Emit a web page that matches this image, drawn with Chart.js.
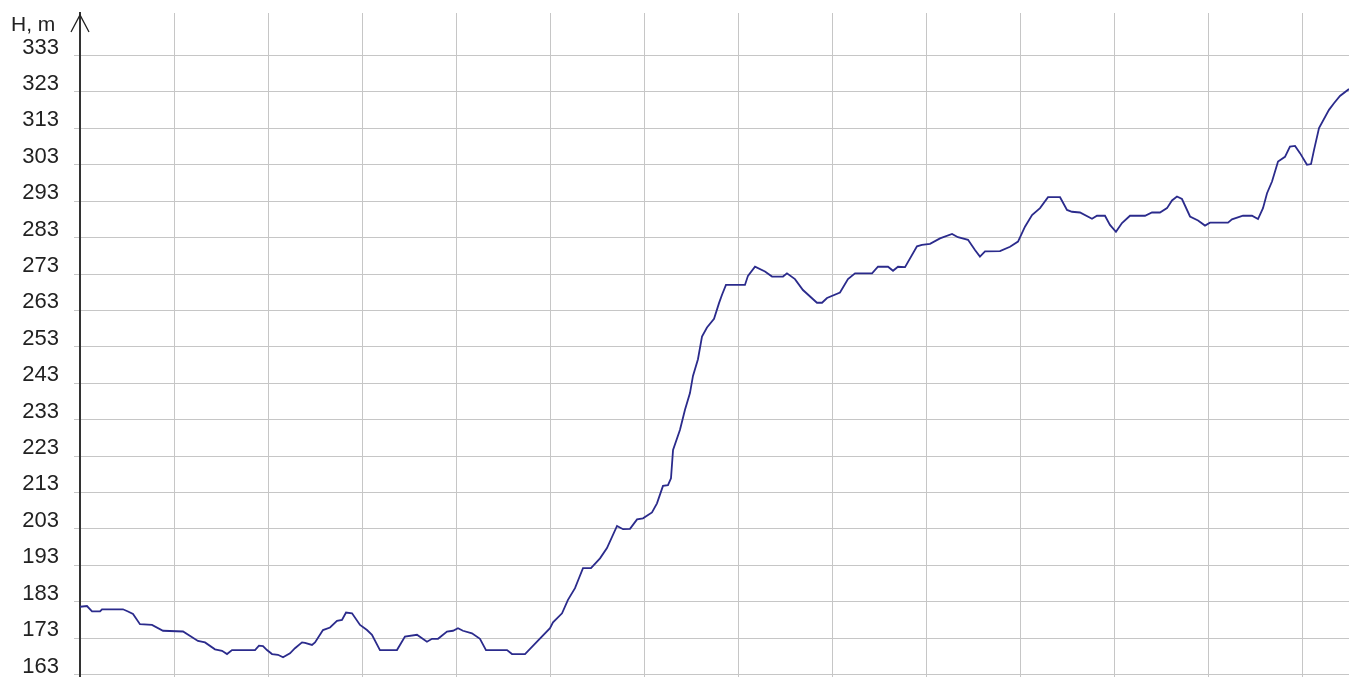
<!DOCTYPE html>
<html>
<head>
<meta charset="utf-8">
<script src="https://cdn.jsdelivr.net/npm/chart.js@4/dist/chart.umd.min.js"></script>
<style>
  html, body { margin: 0; padding: 0; background: #ffffff; }
  #wrap { width: 1349px; height: 677px; position: relative; }
</style>
</head>
<body>
<div id="wrap"><canvas id="c"></canvas></div>
<script>
// Distance along the profile (in grid units) and elevation H, m
const distances = [
  0, 0.074, 0.128, 0.213, 0.234, 0.457, 0.511, 0.564, 0.638, 0.766, 0.883,
  1.096, 1.255, 1.330, 1.436, 1.511, 1.564, 1.617, 1.862, 1.904, 1.947, 1.989,
  2.043, 2.106, 2.160, 2.234, 2.287, 2.362, 2.394, 2.468, 2.500, 2.585, 2.660,
  2.734, 2.787, 2.830, 2.894, 2.979, 3.053, 3.106, 3.191, 3.372, 3.457, 3.585,
  3.691, 3.745, 3.809, 3.904, 3.968, 4.021, 4.074, 4.170, 4.255, 4.319, 4.543,
  4.596, 4.734, 4.862, 5.000, 5.032, 5.128, 5.191, 5.266, 5.309, 5.351, 5.436,
  5.532, 5.606, 5.713, 5.777, 5.851, 5.926, 5.989, 6.085, 6.138, 6.202, 6.255,
  6.287, 6.309, 6.383, 6.436, 6.489, 6.521, 6.574, 6.617, 6.670, 6.745, 6.798,
  6.830, 6.872, 7.074, 7.106, 7.181, 7.287, 7.362, 7.479, 7.521, 7.606, 7.691,
  7.840, 7.894, 7.947, 8.085, 8.170, 8.245, 8.426, 8.489, 8.596, 8.649, 8.702,
  8.777, 8.904, 8.957, 9.043, 9.149, 9.277, 9.340, 9.447, 9.521, 9.574, 9.628,
  9.787, 9.894, 9.979, 10.053, 10.128, 10.213, 10.298, 10.426, 10.500, 10.553,
  10.638, 10.766, 10.819, 10.904, 10.957, 11.021, 11.085, 11.170, 11.330, 11.404,
  11.489, 11.564, 11.617, 11.670, 11.723, 11.809, 11.894, 11.968, 12.021, 12.213,
  12.255, 12.372, 12.468, 12.532, 12.585, 12.628, 12.681, 12.745, 12.819, 12.872,
  12.926, 12.979, 13.053, 13.096, 13.128, 13.181, 13.287, 13.340, 13.404, 13.500
];
const elevations = [
  181.6, 181.8, 180.3, 180.3, 180.9, 180.9, 180.3, 179.6, 176.8, 176.6, 175.0,
  174.8, 172.2, 171.8, 169.9, 169.5, 168.6, 169.7, 169.7, 170.9, 170.8, 169.7,
  168.6, 168.4, 167.7, 168.8, 170.2, 171.8, 171.7, 171.1, 171.8, 175.2, 175.9,
  177.7, 178.0, 180.0, 179.8, 176.6, 175.2, 173.9, 169.7, 169.7, 173.4, 173.9,
  172.0, 172.8, 172.8, 174.8, 175.0, 175.7, 175.0, 174.3, 172.8, 169.7, 169.7,
  168.6, 168.6, 172.0, 175.7, 177.3, 179.8, 183.5, 186.7, 189.5, 192.2, 192.2,
  194.9, 197.7, 203.8, 202.9, 203.0, 205.6, 205.9, 207.5, 210.0, 214.8, 215.0,
  216.9, 224.7, 230.2, 235.7, 240.3, 245.0, 249.6, 255.8, 258.3, 260.7, 265.0,
  267.3, 270.0, 270.0, 272.5, 275.0, 273.7, 272.3, 272.3, 273.2, 271.6, 268.6,
  265.1, 265.1, 266.4, 267.9, 271.6, 273.2, 273.2, 275.0, 275.0, 273.9, 275.0,
  274.9, 280.6, 281.0, 281.3, 282.8, 284.0, 283.1, 282.4, 279.6, 277.8, 279.2,
  279.3, 280.5, 281.9, 286.0, 289.2, 291.1, 294.1, 294.1, 290.6, 290.1,
  289.9, 288.2, 289.0, 289.0, 286.5, 284.6, 287.0, 289.0, 289.0, 289.9,
  289.9, 291.1, 293.2, 294.3, 293.6, 288.8, 287.7, 286.3, 287.1, 287.1,
  288.0, 289.0, 289.0, 288.1, 291.1, 295.2, 298.4, 303.9, 305.2, 308.0,
  308.2, 306.2, 303.0, 303.2, 307.1, 313.1, 318.1, 319.9, 321.9, 323.8
];
const yTickLabels = [163, 173, 183, 193, 203, 213, 223, 233, 243, 253, 263, 273, 283, 293, 303, 313, 323, 333];
const xGridMarks = [0, 1, 2, 3, 4, 5, 6, 7, 8, 9, 10, 11, 12, 13];
const axisTitle = 'H, m';

const points = distances.map((d, i) => ({ x: d, y: elevations[i] }));

const FONT = '"Liberation Sans", Arial, sans-serif';

const decor = {
  id: 'decor',
  afterDraw(chart) {
    const ctx = chart.ctx;
    const ca = chart.chartArea;
    const x0 = ca.left;
    const top = ca.top + 2;
    ctx.save();
    // arrow head on the vertical axis
    ctx.strokeStyle = '#222';
    ctx.lineWidth = 1.3;
    ctx.beginPath();
    ctx.moveTo(x0 - 9, top + 17);
    ctx.lineTo(x0, top);
    ctx.lineTo(x0 + 9, top + 17);
    ctx.stroke();
    ctx.beginPath();
    ctx.lineWidth = 2;
    ctx.moveTo(x0, top);
    ctx.lineTo(x0, ca.top + 4);
    ctx.stroke();
    // axis title
    ctx.fillStyle = '#222';
    ctx.font = '21px ' + FONT;
    ctx.textAlign = 'left';
    ctx.textBaseline = 'alphabetic';
    ctx.fillText(axisTitle, 11, 31);
    ctx.restore();
  }
};

new Chart(document.getElementById('c'), {
  type: 'line',
  data: {
    datasets: [{
      data: points,
      borderColor: '#2b2b8c',
      borderWidth: 1.8,
      pointRadius: 0,
      tension: 0,
      fill: false
    }]
  },
  options: {
    responsive: true,
    maintainAspectRatio: false,
    animation: false,
    events: [],
    layout: { padding: { top: 13, left: 0, right: 0, bottom: 0 } },
    plugins: { legend: { display: false }, tooltip: { enabled: false } },
    scales: {
      x: {
        type: 'linear',
        min: 0,
        max: 13.5,
        afterBuildTicks(axis) { axis.ticks = xGridMarks.map(v => ({ value: v })); },
        afterFit(axis) {
          axis.height = 0;
          axis.paddingLeft = 0; axis.paddingRight = 0;
          axis.paddingTop = 0; axis.paddingBottom = 0;
        },
        ticks: { display: false },
        grid: { color: '#c6c6c6', lineWidth: 1, drawTicks: false },
        border: { display: false }
      },
      y: {
        type: 'linear',
        min: 162.3,
        max: 344.7,
        afterBuildTicks(axis) { axis.ticks = yTickLabels.map(v => ({ value: v })); },
        afterFit(axis) {
          axis.width = 80;
          axis.paddingTop = 0; axis.paddingBottom = 0;
          axis.paddingLeft = 0; axis.paddingRight = 0;
        },
        ticks: {
          font: { family: FONT, size: 22 },
          color: '#222',
          padding: 15,
          labelOffset: -8,
          callback: (v) => String(v)
        },
        grid: { color: '#c6c6c6', lineWidth: 1, tickLength: 6, drawTicks: true },
        border: { display: true, color: '#333', width: 2 }
      }
    }
  },
  plugins: [decor]
});
</script>
</body>
</html>
